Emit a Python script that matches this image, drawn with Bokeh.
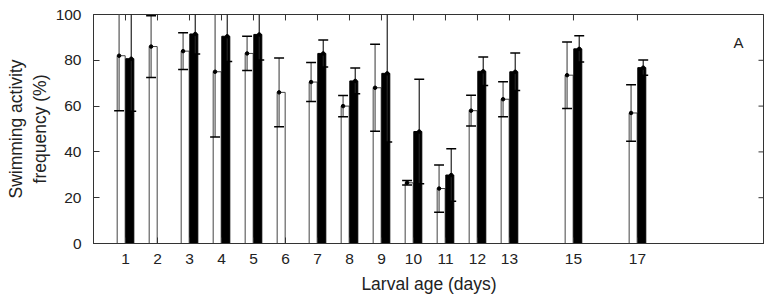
from bokeh.plotting import figure
from bokeh.models import Range1d, FixedTicker, Label, ColumnDataSource
from bokeh.embed import file_html
from bokeh.resources import INLINE

# ---- data ----
days = [1, 2, 3, 4, 5, 6, 7, 8, 9, 10, 11, 12, 13, 15, 17]
white_mean = [82, 86, 84, 75, 83, 66, 70.5, 60, 68, 26.5, 24, 58, 63, 73.5, 57]
white_sd = [24, 13.5, 8, 28.5, 7.5, 15, 8.5, 4.6, 19, 1, 10.3, 6.7, 7.6, 14.5, 12.3]
black_mean = [80.7, None, 91.5, 90.5, 91.3, None, 83, 71, 74.3, 48.9, 29.9, 75.2, 75, 85, 76.8]
black_sd = [23, None, 8.8, 11, 11.2, None, 5.9, 5.6, 30, 22.8, 11.5, 6.2, 8.2, 5.7, 3.3]
y_ticks = [0, 20, 40, 60, 80, 100]

FONT = "Liberation Sans"
TXT = "#222222"
AX = "#333333"

W, H = 764, 296
LEFT, TOP, BOTTOM = 93, 14, 51
X_END, Y_END = 20.97, 100
FRAME_W = W - LEFT
FRAME_H = H - TOP - BOTTOM
TICK = 6  # px, inward

p = figure(width=W, height=H, output_backend="svg", toolbar_location=None,
           x_range=Range1d(0, X_END), y_range=Range1d(0, Y_END),
           min_border_left=LEFT, min_border_right=0, min_border_top=TOP, min_border_bottom=BOTTOM,
           x_axis_label="Larval age (days)", y_axis_label="Swimming activity\nfrequency (%)")
p.outline_line_color = AX
p.outline_line_width = 1
p.grid.visible = False
p.background_fill_color = "white"
p.border_fill_color = "white"

def style(ax):
    ax.axis_line_color = AX
    ax.major_tick_line_color = AX
    ax.major_tick_in = TICK
    ax.major_tick_out = 0
    ax.minor_tick_line_color = None
    ax.major_label_text_font = FONT
    ax.major_label_text_color = TXT
    ax.major_label_text_font_size = "15.5px"
    ax.axis_label_text_font = FONT
    ax.axis_label_text_color = TXT
    ax.axis_label_text_font_style = "normal"
    ax.axis_label_text_font_size = "17.5px"

xb = p.xaxis[0]
xb.ticker = FixedTicker(ticks=days)
style(xb)
xb.major_label_standoff = 10
xb.axis_label_standoff = 7

yl = p.yaxis[0]
yl.ticker = FixedTicker(ticks=y_ticks)
style(yl)
yl.major_label_standoff = 12
yl.axis_label_standoff = 3

# inward ticks on the top and right frame edges
tick_dy = TICK * Y_END / FRAME_H
tick_dx = TICK * X_END / FRAME_W
p.segment(x0=days, x1=days, y0=[Y_END] * len(days), y1=[Y_END - tick_dy] * len(days),
          line_color=AX, line_width=1)
p.segment(x0=[X_END] * len(y_ticks), x1=[X_END - tick_dx] * len(y_ticks), y0=y_ticks, y1=y_ticks,
          line_color=AX, line_width=1)

# ---- sources ----
W_OFF, B_OFF = -0.135, 0.135
WE_OFF, BE_OFF = -0.2, 0.18
CAP = 0.155

wsrc = ColumnDataSource(dict(
    x=[d + W_OFF for d in days], top=white_mean,
    ex=[d + WE_OFF for d in days],
    lo=[m - s for m, s in zip(white_mean, white_sd)],
    hi=[m + s for m, s in zip(white_mean, white_sd)],
    c0=[d + WE_OFF - CAP for d in days], c1=[d + WE_OFF + CAP for d in days],
))
bd = [(d, m, s) for d, m, s in zip(days, black_mean, black_sd) if m is not None]
bsrc = ColumnDataSource(dict(
    x=[d + B_OFF for d, m, s in bd], top=[m for d, m, s in bd],
    ex=[d + BE_OFF for d, m, s in bd],
    lo=[m - s for d, m, s in bd], hi=[m + s for d, m, s in bd],
    c0=[d + BE_OFF - CAP for d, m, s in bd], c1=[d + BE_OFF + CAP for d, m, s in bd],
))

p.vbar(x="x", top="top", bottom=0, width=0.25, source=wsrc,
       fill_color="white", line_color="#444444", line_width=1)
p.vbar(x="x", top="top", bottom=0, width=0.25, source=bsrc,
       fill_color="black", line_color="black", line_width=1)

for src, col in ((wsrc, "#555555"), (bsrc, "#222222")):
    p.segment(x0="ex", x1="ex", y0="lo", y1="hi", source=src, line_color=col, line_width=1.2)
    p.segment(x0="c0", x1="c1", y0="hi", y1="hi", source=src, line_color="black", line_width=1.5)
    p.segment(x0="c0", x1="c1", y0="lo", y1="lo", source=src, line_color="black", line_width=1.5)
    p.scatter(x="ex", y="top", source=src, size=3.5, color="black")

p.add_layout(Label(x=20.0, y=87.6, text="A", text_font=FONT, text_font_size="15px",
                   text_color=TXT, text_baseline="alphabetic"))

open("out.html", "w").write(file_html(p, INLINE))
